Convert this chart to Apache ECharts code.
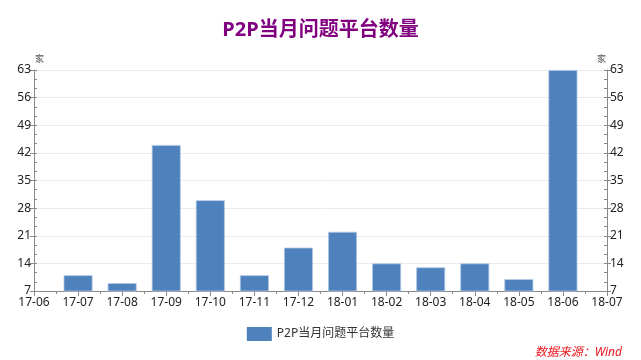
<!DOCTYPE html>
<html>
<head>
<meta charset="utf-8">
<script src="https://cdn.jsdelivr.net/npm/echarts@6/dist/echarts.min.js"></script>
<style>
html,body{margin:0;padding:0;background:#fff;}
#chart{width:641px;height:360px;}
</style>
</head>
<body>
<div id="chart"></div>
<script>
var months = ['17-06','17-07','17-08','17-09','17-10','17-11','17-12','18-01','18-02','18-03','18-04','18-05','18-06','18-07'];
var barMonths = ['17-07','17-08','17-09','17-10','17-11','17-12','18-01','18-02','18-03','18-04','18-05','18-06'];
var barValues = [11, 9, 44, 30, 11, 18, 22, 14, 13, 14, 10, 63];
var seriesName = 'P2P当月问题平台数量';
var titleText = 'P2P当月问题平台数量';
var sourceText = '数据来源：Wind';
var unitText = '家';

var seriesData = months.map(function (m) {
  var i = barMonths.indexOf(m);
  return i >= 0 ? barValues[i] : '-';
});

var font = "'Noto Sans', 'Noto Sans CJK SC', sans-serif";
var axisColor = '#8a8a8a';
var labelColor = '#222';

var chart = echarts.init(document.getElementById('chart'), null, {renderer: 'canvas'});

function mainY(pos) {
  return {
    type: 'value', position: pos, min: 7, max: 63, interval: 7,
    axisLine: {show: true, lineStyle: {color: axisColor, width: 1}},
    axisTick: {show: true, length: 4, lineStyle: {color: axisColor}},
    axisLabel: {color: labelColor, fontSize: 12, fontFamily: font, margin: 3},
    splitLine: {show: pos === 'left', lineStyle: {color: '#ebebeb'}}
  };
}
function minorY(pos) {
  return {
    type: 'value', position: pos, min: 7, max: 63, interval: 7 / 3,
    axisLine: {show: false},
    axisTick: {show: true, inside: true, length: 3, lineStyle: {color: axisColor}},
    axisLabel: {show: false},
    splitLine: {show: false}
  };
}
var unitStyle = {color: '#555', fontSize: 9, fontWeight: 'normal', fontFamily: font};

chart.setOption({
  animation: false,
  backgroundColor: '#fff',
  title: [
    {text: titleText, left: 'center', top: 15,
     textStyle: {color: '#800080', fontSize: 20, fontWeight: 'bold', fontFamily: font}},
    {text: sourceText, right: 14, top: 342,
     textStyle: {color: '#e8141b', fontSize: 12, fontStyle: 'italic', fontWeight: 'normal', fontFamily: font}},
    {text: unitText, left: 35, top: 55, padding: 0, textStyle: unitStyle},
    {text: unitText, right: 35, top: 55, padding: 0, textStyle: unitStyle}
  ],
  legend: {
    data: [seriesName], top: 322, left: 'center',
    itemWidth: 25, itemHeight: 14, itemGap: 5,
    icon: 'rect',
    itemStyle: {borderWidth: 0},
    textStyle: {color: '#333', fontSize: 12, fontFamily: font}
  },
  grid: {left: 34, right: 34, top: 70, bottom: 69, containLabel: false},
  xAxis: [
    {
      type: 'category', data: months, boundaryGap: false, position: 'bottom',
      axisLine: {show: true, lineStyle: {color: axisColor}},
      axisTick: {show: true, length: 5, alignWithLabel: true, lineStyle: {color: axisColor}},
      axisLabel: {color: labelColor, fontSize: 12, fontFamily: font, margin: 6, interval: 0},
      splitLine: {show: false}
    },
    {
      type: 'value', position: 'bottom', min: 0, max: 13, interval: 0.5,
      axisLine: {show: false},
      axisTick: {show: true, length: 3, lineStyle: {color: axisColor}},
      axisLabel: {show: false},
      splitLine: {show: false}
    }
  ],
  yAxis: [mainY('left'), mainY('right'), minorY('left'), minorY('right')],
  series: [{
    name: seriesName, type: 'bar', xAxisIndex: 0, yAxisIndex: 0,
    data: seriesData, barWidth: 29,
    itemStyle: {color: '#4f81bd', borderColor: '#b3c9e4', borderWidth: 0.8}
  }]
});
</script>
</body>
</html>
